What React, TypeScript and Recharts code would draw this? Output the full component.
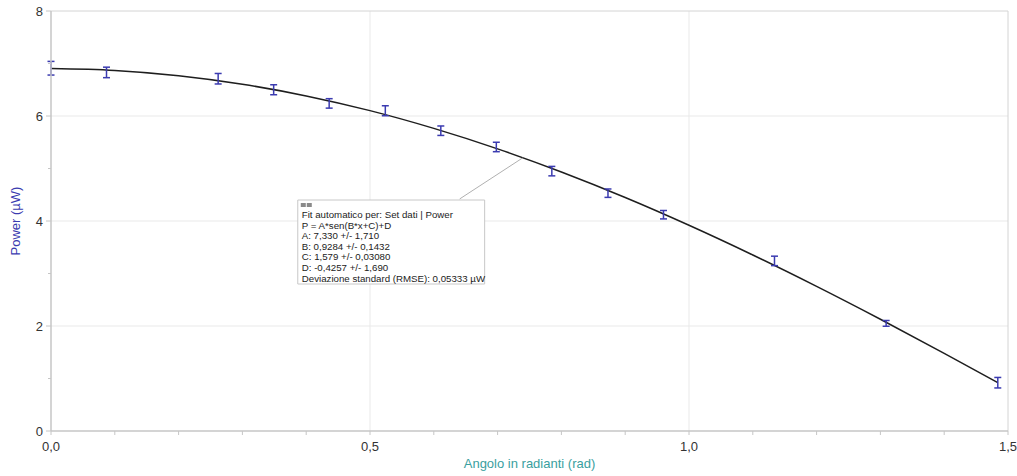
import {
  ComposedChart,
  Line,
  Scatter,
  ErrorBar,
  XAxis,
  YAxis,
  CartesianGrid,
  ReferenceArea,
  ReferenceLine,
} from 'recharts'

// measured points (angle in rad, power in µW, error)
const angles = [0, 0.087, 0.262, 0.349, 0.436, 0.524, 0.611, 0.698, 0.785, 0.873, 0.96, 1.134, 1.309, 1.484]
const power = [6.91, 6.83, 6.71, 6.5, 6.24, 6.1, 5.72, 5.41, 4.95, 4.53, 4.12, 3.24, 2.05, 0.92]
const powerErr = [0.13, 0.1, 0.1, 0.095, 0.09, 0.095, 0.09, 0.09, 0.09, 0.08, 0.08, 0.09, 0.055, 0.1]

// fitted curve
const fitX = [0, 0.1, 0.2, 0.3, 0.4, 0.5, 0.6, 0.7, 0.8, 0.9, 1.0, 1.1, 1.2, 1.3, 1.4, 1.484]
const fitP = [6.904, 6.867, 6.767, 6.605, 6.383, 6.102, 5.764, 5.374, 4.933, 4.447, 3.918, 3.352, 2.754, 2.128, 1.48, 0.923]

const xTicks = [0, 0.1, 0.2, 0.3, 0.4, 0.5, 0.6, 0.7, 0.8, 0.9, 1.0, 1.1, 1.2, 1.3, 1.4, 1.5]
const xLabels = [0, 0.5, 1.0, 1.5]
const yTicks = [0, 1, 2, 3, 4, 5, 6, 7, 8]
const yLabels = [0, 2, 4, 6, 8]

const fitLines = [
  'Fit automatico per: Set dati | Power',
  'P = A*sen(B*x+C)+D',
  'A: 7,330 +/- 1,710',
  'B: 0,9284 +/- 0,1432',
  'C: 1,579 +/- 0,03080',
  'D: -0,4257 +/- 1,690',
  'Deviazione standard (RMSE): 0,05333 µW',
]

const points = angles.map((x, i) => ({ x, y: power[i], err: powerErr[i] }))
const curve = fitX.map((x, i) => ({ x, p: fitP[i] }))

const FONT = '"Liberation Sans", Arial, sans-serif'
const AXIS = '#c6c6c6'
const GRID = '#e9e9e9'
const BLUE = '#3b3bb0'

const XTick = (props: any) => {
  const { x, y, payload } = props
  const major = xLabels.includes(payload.value)
  return (
    <g>
      <line x1={x} y1={y} x2={x} y2={y + 4} stroke={AXIS} />
      {major && (
        <text x={x} y={y + 20} textAnchor="middle" fontSize={13} fill="#333" fontFamily={FONT}>
          {payload.value.toFixed(1).replace('.', ',')}
        </text>
      )}
    </g>
  )
}

const YTick = (props: any) => {
  const { x, y, payload } = props
  const major = yLabels.includes(payload.value)
  return (
    <g>
      <line x1={x - (major ? 5 : 3)} y1={y} x2={x} y2={y} stroke={AXIS} />
      {major && (
        <text x={x - 8} y={y + 4.5} textAnchor="end" fontSize={13} fill="#333" fontFamily={FONT}>
          {payload.value}
        </text>
      )}
    </g>
  )
}

const YLabel = (props: any) => {
  const { viewBox } = props
  const cx = viewBox.x + 15
  const cy = viewBox.y + viewBox.height / 2
  return (
    <text
      x={cx}
      y={cy + 4.5}
      transform={`rotate(-90 ${cx} ${cy})`}
      textAnchor="middle"
      fontSize={13}
      fill={BLUE}
      fontFamily={FONT}
    >
      Power (µW)
    </text>
  )
}

const FitBox = (props: any) => {
  const { viewBox } = props
  const { x, y } = viewBox
  return (
    <g fontFamily={FONT} fontSize={9.7} fill="#222">
      <rect x={x + 3} y={y + 3} width={5} height={4} fill="#8a8a8a" />
      <rect x={x + 9} y={y + 3} width={5} height={4} fill="#8a8a8a" />
      {fitLines.map((t, i) => (
        <text key={i} x={x + 4} y={y + 18 + i * 10.6}>
          {t}
        </text>
      ))}
    </g>
  )
}

export default function App() {
  return (
    <div style={{ position: 'absolute', left: 0, top: 0, background: '#fff' }}>
      <ComposedChart
        width={1017}
        height={476}
        margin={{ top: 11, right: 9, left: 0, bottom: 0 }}
        style={{ fontFamily: FONT }}
      >
        <CartesianGrid
          stroke={GRID}
          horizontalValues={[2, 4, 6]}
          verticalValues={[0.5, 1.0]}
        />
        <XAxis
          dataKey="x"
          type="number"
          domain={[0, 1.5]}
          ticks={xTicks}
          interval={0}
          allowDataOverflow
          height={45}
          tickSize={0}
          tickMargin={0}
          tickLine={false}
          axisLine={{ stroke: AXIS, strokeWidth: 1.5 }}
          tick={<XTick />}
          label={{
            value: 'Angolo in radianti (rad)',
            position: 'insideBottom',
            offset: 8,
            fill: '#3aa0a0',
            fontSize: 13,
          }}
        />
        <YAxis
          type="number"
          domain={[0, 8]}
          ticks={yTicks}
          interval={0}
          allowDataOverflow
          width={51}
          tickSize={0}
          tickMargin={0}
          tickLine={false}
          axisLine={{ stroke: AXIS, strokeWidth: 1.5 }}
          tick={<YTick />}
          label={<YLabel />}
        />
        <ReferenceLine y={8} stroke="#d4d4d4" />
        <ReferenceLine x={1.5} stroke="#d4d4d4" />
        <Line
          data={curve}
          dataKey="p"
          type="monotone"
          stroke="#1e1e1e"
          strokeWidth={1.5}
          dot={false}
          activeDot={false}
          isAnimationActive={false}
        />
        <Scatter data={points} dataKey="y" shape={() => <g />} isAnimationActive={false}>
          <ErrorBar dataKey="err" direction="y" width={3.5} stroke={BLUE} strokeWidth={1.5} />
        </Scatter>
        <ReferenceLine
          segment={[
            { x: 0.6406, y: 4.42 },
            { x: 0.739, y: 5.2 },
          ]}
          stroke="#b0b0b0"
        />
        <ReferenceArea
          x1={0.3868}
          x2={0.6797}
          y1={2.8}
          y2={4.4}
          fill="#ffffff"
          fillOpacity={1}
          stroke="#c8c8c8"
          label={<FitBox />}
        />
      </ComposedChart>
    </div>
  )
}
